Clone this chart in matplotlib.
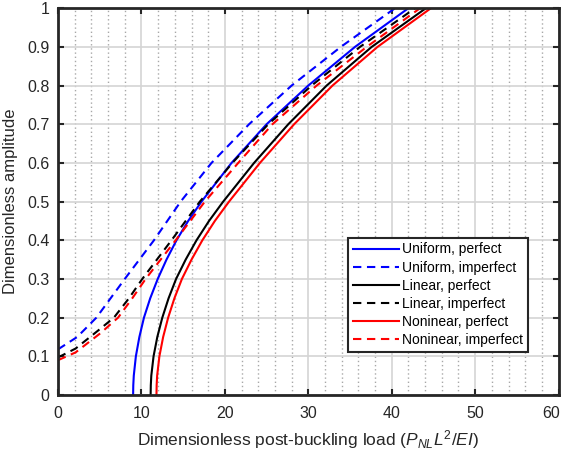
import matplotlib
matplotlib.use("Agg")
import matplotlib.pyplot as plt
from matplotlib.ticker import MultipleLocator

plt.rcParams['font.family'] = ['Liberation Sans', 'DejaVu Sans']
plt.rcParams['mathtext.fontset'] = 'custom'
plt.rcParams['mathtext.rm'] = 'Liberation Sans'
plt.rcParams['mathtext.it'] = 'Liberation Sans:italic'

# amplitude samples (y) and load values (x)
amp_perfect = [0.0, 0.025, 0.05, 0.1, 0.15, 0.2, 0.25, 0.3, 0.35, 0.4, 0.45, 0.5, 0.6, 0.7, 0.8, 0.9, 1.0]
load_uniform_perfect = [9.0, 9.02, 9.08, 9.33, 9.75, 10.3, 11.05, 11.95, 13.0, 14.2, 15.6, 17.2,
                        20.8, 25.0, 30.0, 35.6, 42.0]
load_linear_perfect = [11.1, 11.12, 11.18, 11.45, 11.9, 12.5, 13.25, 14.15, 15.3, 16.6, 18.1, 19.8,
                       23.5, 27.6, 32.2, 37.6, 44.1]
load_nonlinear_perfect = [11.8, 11.82, 11.88, 12.15, 12.6, 13.2, 13.95, 14.85, 16.0, 17.3, 18.8, 20.5,
                          24.2, 28.3, 32.9, 38.3, 44.7]

amp_uniform_imperfect = [0.118, 0.15, 0.2, 0.25, 0.3, 0.4, 0.5, 0.6, 0.7, 0.8, 0.9, 1.0]
load_uniform_imperfect = [0.0, 2.3, 4.6, 6.3, 8.0, 11.5, 14.7, 18.4, 22.9, 28.0, 33.9, 40.4]
amp_linear_imperfect = [0.097, 0.12, 0.17, 0.2, 0.25, 0.3, 0.4, 0.5, 0.6, 0.7, 0.8, 0.9, 1.0]
load_linear_imperfect = [0.0, 2.1, 5.0, 6.7, 8.5, 10.1, 13.6, 17.0, 20.9, 25.2, 30.4, 36.2, 42.8]
amp_nonlinear_imperfect = [0.09, 0.11, 0.16, 0.2, 0.25, 0.3, 0.4, 0.5, 0.6, 0.7, 0.8, 0.9, 1.0]
load_nonlinear_imperfect = [0.0, 2.1, 5.1, 7.2, 8.9, 10.5, 14.1, 17.6, 21.6, 25.7, 31.0, 37.0, 43.4]

x_ticks = [0, 10, 20, 30, 40, 50, 60]
y_ticks = [0, 0.1, 0.2, 0.3, 0.4, 0.5, 0.6, 0.7, 0.8, 0.9, 1.0]
y_labels = ['0', '0.1', '0.2', '0.3', '0.4', '0.5', '0.6', '0.7', '0.8', '0.9', '1']

dash = (0, (4, 2.7))

fig = plt.figure(figsize=(5.65, 4.54), dpi=100)
ax = fig.add_axes([0.1027, 0.130, 0.886, 0.852])

ax.plot(load_uniform_perfect, amp_perfect, color='#0000ff', lw=1.5, label='Uniform, perfect')
ax.plot(load_uniform_imperfect, amp_uniform_imperfect, color='#0000ff', lw=1.5, ls=dash,
        label='Uniform, imperfect')
ax.plot(load_linear_perfect, amp_perfect, color='black', lw=1.5, label='Linear, perfect')
ax.plot(load_linear_imperfect, amp_linear_imperfect, color='black', lw=1.5, ls=dash,
        label='Linear, imperfect')
ax.plot(load_nonlinear_perfect, amp_perfect, color='#ff0000', lw=1.5, label='Noninear, perfect')
ax.plot(load_nonlinear_imperfect, amp_nonlinear_imperfect, color='#ff0000', lw=1.5, ls=dash,
        label='Noninear, imperfect')

ax.set_xlim(0, 60)
ax.set_ylim(0, 1)
# last x label is drawn separately so it stays inside the figure
ax.set_xticks(x_ticks, [str(t) for t in x_ticks[:-1]] + [''])
ax.xaxis.set_minor_locator(MultipleLocator(2))
ax.set_yticks(y_ticks, y_labels)

ax.grid(which='major', color='#d4d4d4', lw=1.2, ls='-')
ax.grid(which='minor', axis='x', color='#a8a8a8', lw=1.0, ls=(0, (1, 2)))
ax.set_axisbelow(True)

ax.tick_params(which='major', direction='in', top=True, right=True, length=4, width=1.5,
               labelsize=11.5, colors='#262626')
ax.tick_params(axis='x', pad=8)
ax.tick_params(axis='y', pad=6)
ax.tick_params(which='minor', length=0)
for s in ax.spines.values():
    s.set_linewidth(2)
    s.set_color('#262626')

ax.annotate(str(x_ticks[-1]), xy=(x_ticks[-1], 0), xycoords=('data', 'axes fraction'),
            xytext=(1, -8), textcoords='offset points', ha='right', va='top',
            fontsize=11.5, color='#262626', annotation_clip=False)

ax.set_xlabel(r'Dimensionless post-buckling load ($P_{NL}L^{2}/EI$)', fontsize=12.5,
              color='#262626', labelpad=5)
ax.set_ylabel('Dimensionless amplitude', fontsize=12, color='#262626', labelpad=7)

leg = ax.legend(loc='lower left', bbox_to_anchor=(0.566, 0.093), fontsize=10,
                handlelength=3.3, handletextpad=0.2, labelspacing=0.3, borderpad=0.35,
                fancybox=False, framealpha=1, edgecolor='#262626')
leg.get_frame().set_linewidth(1.5)

fig.savefig('out.png', dpi=100)
